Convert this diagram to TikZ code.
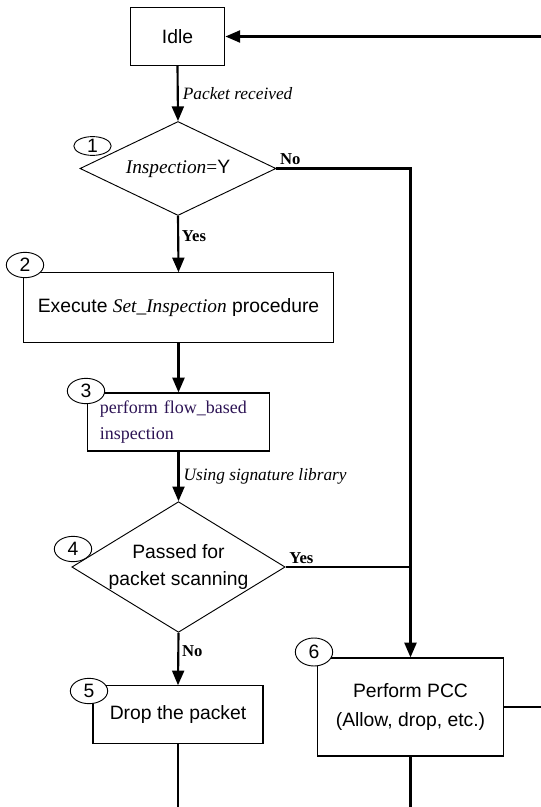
\documentclass[tikz,border=0pt]{standalone}
\usepackage{fontspec}
\usepackage{xcolor}
\usepackage{tikz}
\setmainfont{Liberation Sans}
\newfontfamily\tnr{Liberation Serif}
\usetikzlibrary{shapes.geometric,arrows.meta}
\definecolor{flowtxt}{RGB}{45,20,85}

\begin{document}
\begin{tikzpicture}[x=0.75pt,y=0.75pt,yscale=-1,xscale=1,
  box/.style={draw,line width=0.9pt,inner sep=0pt,align=center,font=\fontsize{14.5}{20}\selectfont},
  decide/.style={diamond,draw,line width=0.7pt,inner sep=-2pt,align=center,font=\fontsize{14.5}{20}\selectfont},
  tag/.style={ellipse,draw,fill=white,line width=0.7pt,inner sep=0pt,minimum width=28pt,minimum height=19pt,font=\fontsize{14.5}{15}\selectfont},
  line/.style={line width=1.6pt},
  flow/.style={line,-{Triangle[length=11pt,width=9pt]}},
  lbl/.style={font=\tnr\itshape\fontsize{13}{15}\selectfont,inner sep=3pt},
  yn/.style={font=\tnr\bfseries\fontsize{12.5}{14}\selectfont,inner sep=2pt}]

\useasboundingbox (0,0) rectangle (541,807);

\draw (177.5,36.5) node [box,minimum width=71pt,minimum height=43pt] (idle) {Idle};

\draw (178,168.5) node [decide,aspect=2.09,minimum width=147pt,minimum height=70.5pt] (insp) {{\tnr\itshape Inspection}{\tnr =}Y};

\draw (178.5,307.5) node [box,minimum width=233pt,minimum height=52pt] (setinsp) {Execute {\tnr\itshape Set\_Inspection} procedure};

\draw (178.5,422) node [box,minimum width=136pt,minimum height=43.5pt,align=left,text width=118pt,text=flowtxt,font=\tnr\fontsize{13.5}{19}\selectfont] (flowbased) {perform flow\_based\\inspection};

\draw (178.5,567) node [decide,aspect=1.63,minimum width=160pt,minimum height=98pt] (passed) {Passed for\\packet scanning};

\draw (178,714.5) node [box,minimum width=127.5pt,minimum height=43pt] (drop) {Drop the packet};

\draw (410.5,707) node [box,minimum width=139pt,minimum height=73.5pt,font=\fontsize{14.5}{21.5}\selectfont] (pcc) {Perform PCC\\(Allow, drop, etc.)};


\draw (92.5,146) node [tag,minimum height=13.5pt] (n1) {1};

\draw (25,265) node [tag] (n2) {2};

\draw (86,391) node [tag] (n3) {3};

\draw (73,549) node [tag] (n4) {4};

\draw (89,691) node [tag] (n5) {5};

\draw (314,652) node [tag,minimum height=21pt] (n6) {6};


\coordinate (back) at (541,36.5);
\coordinate (pccout) at (541,707);
\coordinate (pccdown) at (410.5,807);
\coordinate (dropdown) at (178,807);


\draw [flow] (back) -- (idle.east);

\draw [flow] (idle.south) -- node [lbl,right] {Packet received} (insp.north);

\draw [flow] (insp.south) -- node [yn,right,pos=0.35] {Yes} (setinsp.north);

\draw [flow] (insp.east) node [yn,anchor=south west] {No} -| (pcc.north);

\draw [flow] (setinsp.south) -- (flowbased.north);

\draw [flow] (flowbased.south) -- node [lbl,right] {Using signature library} (passed.north);

\draw [line] (passed.east) node [yn,anchor=south west] {Yes} -- (passed.east -| pcc.north);

\draw [flow] (passed.south) -- node [yn,right,pos=0.35] {No} (drop.north);

\draw [line] (drop.south) -- (dropdown);

\draw [line] (pcc.east) -- (pccout);

\draw [line] (pcc.south) -- (pccdown);

\end{tikzpicture}
\end{document}
